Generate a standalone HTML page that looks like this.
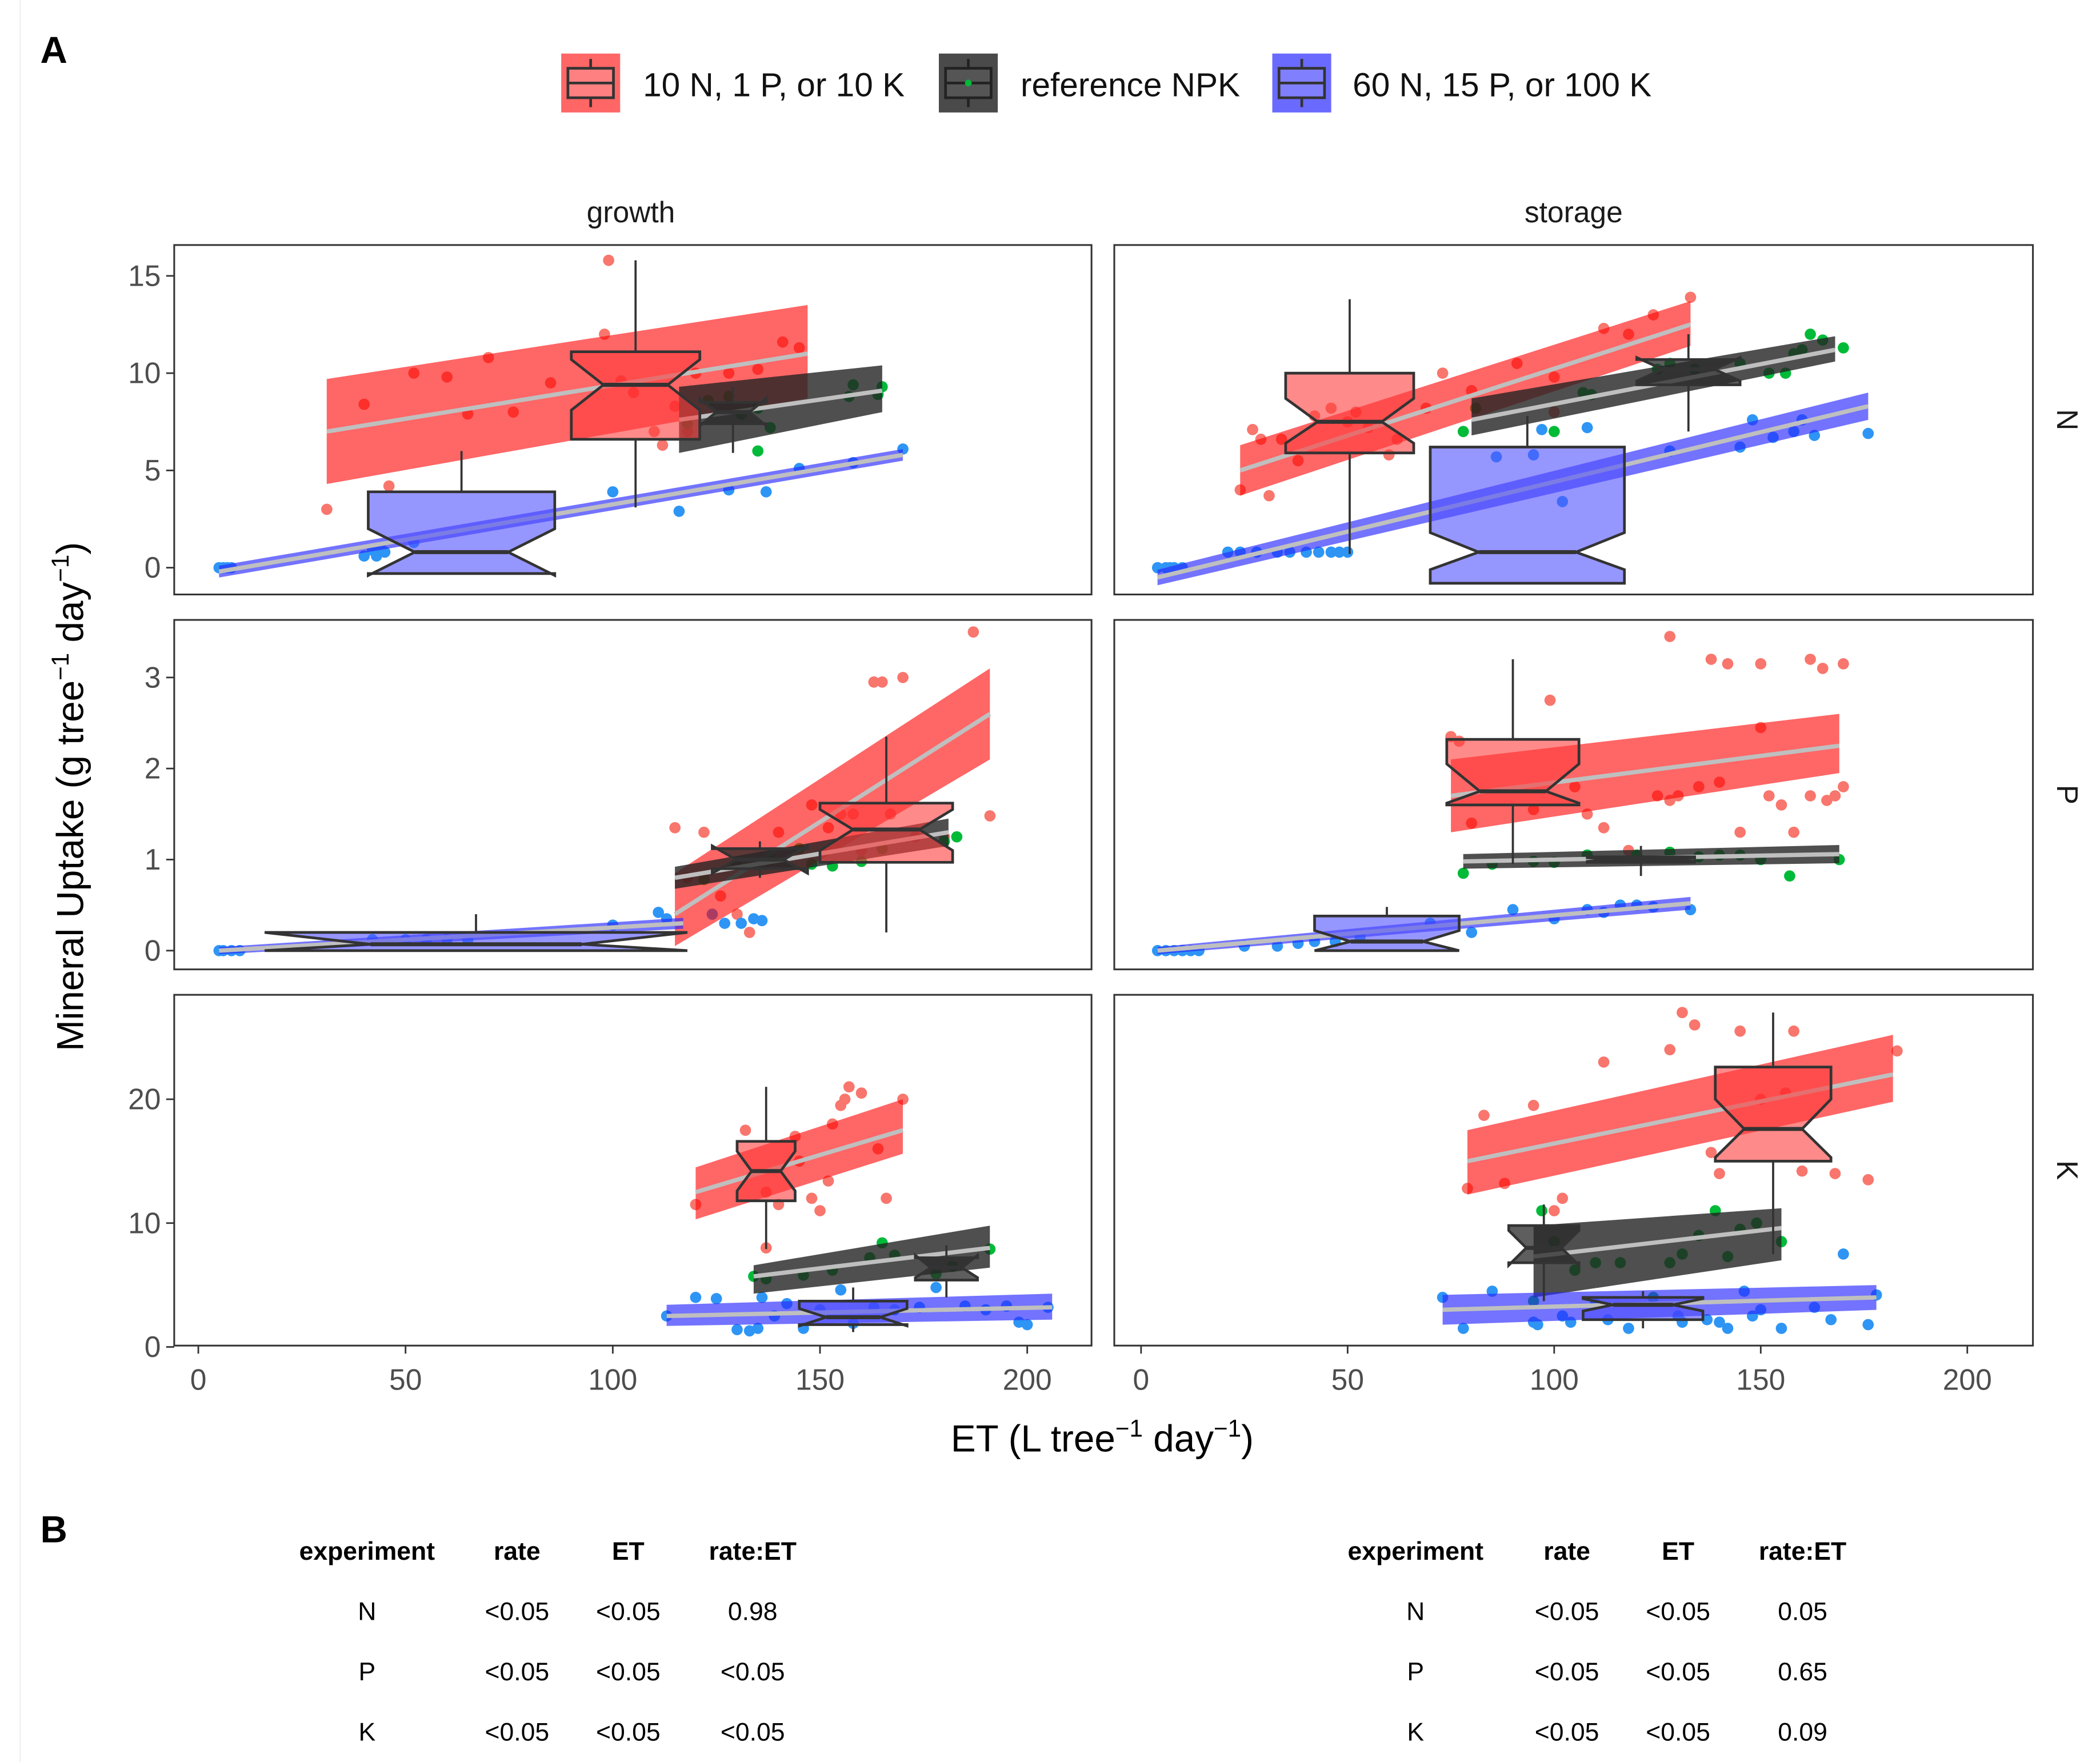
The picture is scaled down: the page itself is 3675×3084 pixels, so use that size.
<!DOCTYPE html>
<html><head><meta charset="utf-8"><style>
html,body{margin:0;padding:0;background:#fff;}
svg{display:block;font-family:"Liberation Sans",Arial,sans-serif;}
</style></head><body>
<svg id="chart" width="3675" height="3084" viewBox="0 0 1568 1316">
<rect x="0" y="0" width="1568" height="1316" fill="#fff"/>
<line x1="15" y1="0" x2="15" y2="1316" stroke="#f0f0f0" stroke-width="1"/>
<text x="30" y="47" font-size="28" font-weight="bold">A</text>
<g>
 <g>
  <rect x="419" y="40" width="44" height="44" fill="#ff6666"/>
  <line x1="441" y1="44" x2="441" y2="80" stroke="#333" stroke-width="2"/>
  <rect x="424" y="51" width="34" height="22" fill="#ff8080" stroke="#333" stroke-width="2"/>
  <line x1="424" y1="62" x2="458" y2="62" stroke="#333" stroke-width="2"/>
  <text x="480" y="72" font-size="25" fill="#111">10 N, 1 P, or 10 K</text>
 </g>
 <g>
  <rect x="701" y="40" width="44" height="44" fill="#4a4a4a"/>
  <line x1="723" y1="44" x2="723" y2="80" stroke="#222" stroke-width="2"/>
  <rect x="706" y="51" width="34" height="22" fill="#555" stroke="#222" stroke-width="2"/>
  <line x1="706" y1="62" x2="740" y2="62" stroke="#222" stroke-width="2"/>
  <circle cx="723" cy="62" r="2.5" fill="#00ba38"/>
  <text x="762" y="72" font-size="25" fill="#111">reference NPK</text>
 </g>
 <g>
  <rect x="950" y="40" width="44" height="44" fill="#6a6aff"/>
  <line x1="972" y1="44" x2="972" y2="80" stroke="#333" stroke-width="2"/>
  <rect x="955" y="51" width="34" height="22" fill="#8080ff" stroke="#333" stroke-width="2"/>
  <line x1="955" y1="62" x2="989" y2="62" stroke="#333" stroke-width="2"/>
  <text x="1010" y="72" font-size="25" fill="#111">60 N, 15 P, or 100 K</text>
 </g>
</g>
<text x="471" y="166" font-size="22" text-anchor="middle" fill="#1a1a1a">growth</text>
<text x="1175" y="166" font-size="22" text-anchor="middle" fill="#1a1a1a">storage</text>
<g id="plots"></g>
<text transform="translate(62,595) rotate(-90)" font-size="28" text-anchor="middle" fill="#000">Mineral Uptake (g tree<tspan dy="-11" font-size="18">−1</tspan><tspan dy="11"> day</tspan><tspan dy="-11" font-size="18">−1</tspan><tspan dy="11">)</tspan></text>
<text x="823" y="1084" font-size="28" text-anchor="middle" fill="#000">ET (L tree<tspan dy="-11" font-size="18">−1</tspan><tspan dy="11"> day</tspan><tspan dy="-11" font-size="18">−1</tspan><tspan dy="11">)</tspan></text>
<text x="30" y="1152" font-size="28" font-weight="bold">B</text>
<g id="tables" font-size="19" fill="#000"></g>
</svg>
<script>
// ---------- data ----------
const xTicks = [0, 50, 100, 150, 200];
const yTicksN = [0, 5, 10, 15];
const yTicksP = [0, 1, 2, 3];
const yTicksK = [0, 10, 20];
const facetRows = ["N", "P", "K"];
const facetCols = ["growth", "storage"];
// fits: [x0, x1, fit0, fit1, lo0, hi0, lo1, hi1]
const growthN_fitRed = [31, 147, 7.0, 11.0, 4.3, 9.7, 8.7, 13.5];
const growthN_fitRef = [116, 165, 7.6, 9.1, 5.9, 9.3, 8.0, 10.4];
const growthN_fitHigh = [5, 170, -0.2, 5.8, -0.5, 0.1, 5.5, 6.1];
// boxes: [xlo, xhi, whiskLo, q1, med, q3, whiskHi, notchLo, notchHi]
const growthN_boxRed = [90, 121, 3.1, 6.6, 9.4, 11.1, 15.8, 8.1, 10.7];
const growthN_boxRef = [121, 137, 5.9, 7.4, 8.0, 8.5, 9.3, 7.3, 8.7];
const growthN_boxHigh = [41, 86, -0.3, -0.3, 0.8, 3.9, 6.0, -0.4, 2.0];
const growthN_ptsRed = [[31,3.0],[40,8.4],[46,4.2],[52,10.0],[60,9.8],[65,7.9],[70,10.8],[76,8.0],[85,9.5],[98,12.0],[99,15.8],[102,9.6],[110,7.0],[112,6.3],[115,8.3],[120,10.0],[128,10.0],[135,10.2],[141,11.6],[145,11.3],[105,9.0],[118,7.0]];
const growthN_ptsRef = [[118,7.4],[123,8.6],[128,8.8],[131,7.9],[135,6.0],[138,7.2],[158,9.4],[157,8.8],[165,9.3],[164,8.9],[135,8.2]];
const growthN_ptsHigh = [[5,0],[6,0],[7,0],[8,0],[40,0.6],[42,0.9],[44,1.0],[43,0.6],[45,0.8],[52,1.3],[100,3.9],[116,2.9],[128,4.0],[137,3.9],[145,5.1],[158,5.4],[170,6.1]];

const storageN_fitRed = [24, 133, 5.0, 12.5, 3.7, 6.3, 11.4, 13.7];
const storageN_fitRef = [80, 168, 7.6, 11.2, 6.8, 8.7, 10.6, 11.9];
const storageN_fitHigh = [4, 176, -0.5, 8.3, -0.9, -0.1, 7.6, 9.0];
const storageN_boxRed = [35, 66, 0.7, 5.9, 7.5, 10.0, 13.8, 6.4, 8.7];
const storageN_boxRef = [120, 145, 7.0, 9.4, 10.2, 10.7, 12.0, 9.6, 10.8];
const storageN_boxHigh = [70, 117, -0.8, -0.8, 0.8, 6.2, 7.8, -0.1, 1.8];
const storageN_ptsRed = [[24,4.0],[27,7.1],[29,6.6],[31,3.7],[34,6.6],[38,5.5],[42,7.8],[46,8.2],[50,7.5],[52,8.0],[55,7.2],[60,5.8],[62,6.6],[69,8.2],[73,10.0],[80,9.1],[91,10.5],[100,9.8],[112,12.3],[118,12.0],[124,13.0],[133,13.9],[100,8.0]];
const storageN_ptsRef = [[78,7.0],[100,7.0],[107,9.0],[109,8.9],[125,10.2],[128,10.5],[134,10.2],[145,10.5],[152,10.0],[156,10.0],[158,11.0],[160,11.2],[162,12.0],[165,11.7],[170,11.3],[81,8.2]];
const storageN_ptsHigh = [[4,0],[6,0],[7,0],[8,0],[10,0],[21,0.8],[24,0.8],[28,0.8],[33,0.8],[36,0.8],[40,0.8],[43,0.8],[46,0.8],[48,0.8],[50,0.8],[86,5.7],[95,5.8],[97,7.1],[102,3.4],[108,7.2],[145,6.2],[148,7.6],[153,6.7],[158,7.0],[160,7.6],[163,6.8],[176,6.9],[128,6.0]];

const growthP_fitRed = [115, 191, 0.4, 2.6, 0.05, 0.85, 2.1, 3.1];
const growthP_fitRef = [115, 181, 0.8, 1.3, 0.68, 0.92, 1.15, 1.45];
const growthP_fitHigh = [5, 117, 0.0, 0.3, -0.04, 0.04, 0.24, 0.36];
const growthP_boxRed = [150, 182, 0.2, 0.97, 1.33, 1.62, 2.35, 1.1, 1.55];
const growthP_boxRef = [124, 147, 0.8, 0.9, 1.0, 1.12, 1.2, 0.85, 1.15];
const growthP_boxHigh = [16, 118, 0.0, 0.0, 0.07, 0.2, 0.4, 0.0, 0.2];
const growthP_ptsRed = [[115,1.35],[118,0.8],[122,1.3],[126,0.6],[130,0.4],[133,0.2],[140,1.3],[148,1.6],[152,1.35],[158,1.5],[163,2.95],[165,2.95],[167,1.5],[170,3.0],[173,1.25],[180,1.25],[187,3.5],[191,1.48],[160,1.1],[155,1.5]];
const growthP_ptsRef = [[122,0.78],[130,0.95],[138,1.0],[145,1.12],[148,0.95],[153,0.93],[160,0.98],[165,1.12],[180,1.2],[183,1.25]];
const growthP_ptsHigh = [[5,0],[6,0],[8,0],[10,0],[42,0.12],[50,0.12],[55,0.12],[60,0.12],[65,0.12],[100,0.28],[111,0.42],[113,0.35],[124,0.4],[127,0.3],[131,0.3],[134,0.35],[136,0.33]];

const storageP_fitRed = [75, 169, 1.7, 2.25, 1.3, 2.1, 1.95, 2.6];
const storageP_fitRef = [78, 169, 0.98, 1.06, 0.9, 1.06, 0.96, 1.16];
const storageP_fitHigh = [4, 133, 0.0, 0.52, -0.04, 0.04, 0.45, 0.59];
const storageP_boxRed = [74, 106, 0.95, 1.6, 1.75, 2.32, 3.2, 1.62, 2.05];
const storageP_boxRef = [108, 134, 0.82, 0.97, 1.0, 1.03, 1.15, 0.98, 1.02];
const storageP_boxHigh = [42, 77, 0.0, 0.0, 0.1, 0.38, 0.48, 0.0, 0.22];
const storageP_ptsRed = [[75,2.35],[77,2.3],[80,1.4],[95,1.55],[99,2.75],[105,1.8],[108,1.5],[112,1.35],[118,1.1],[125,1.7],[128,1.65],[130,1.7],[135,1.8],[140,1.85],[145,1.3],[150,2.45],[152,1.7],[158,1.3],[162,1.7],[166,1.65],[168,1.7],[170,1.8],[128,3.45],[138,3.2],[142,3.15],[150,3.15],[162,3.2],[165,3.1],[170,3.15],[155,1.6]];
const storageP_ptsRef = [[78,0.85],[85,0.95],[95,0.98],[108,1.05],[120,1.05],[128,1.08],[135,1.03],[140,1.05],[145,1.05],[150,1.0],[157,0.82],[169,1.0],[100,0.97]];
const storageP_ptsHigh = [[4,0],[6,0],[8,0],[10,0],[12,0],[14,0],[25,0.05],[33,0.05],[38,0.08],[42,0.1],[47,0.1],[53,0.15],[70,0.3],[80,0.2],[90,0.45],[100,0.35],[108,0.45],[112,0.42],[116,0.5],[120,0.5],[124,0.48],[133,0.45]];

const growthK_fitRed = [120, 170, 12.5, 17.5, 10.3, 14.5, 15.6, 20.0];
const growthK_fitRef = [134, 191, 5.7, 8.0, 4.3, 6.6, 6.4, 9.8];
const growthK_fitHigh = [113, 206, 2.5, 3.2, 1.7, 3.4, 2.2, 4.3];
const growthK_boxRed = [130, 144, 7.9, 11.8, 14.2, 16.6, 21.0, 12.6, 15.8];
const growthK_boxRef = [173, 188, 4.0, 5.4, 6.4, 7.2, 8.2, 5.6, 7.4];
const growthK_boxHigh = [145, 171, 1.2, 1.8, 2.4, 3.7, 4.8, 1.7, 3.1];
const growthK_ptsRed = [[120,11.5],[132,17.5],[137,12.5],[140,11.5],[144,17.0],[148,12.0],[150,11.0],[152,13.4],[153,18.0],[155,19.5],[156,20.0],[157,21.0],[160,20.5],[164,16.0],[166,12.0],[170,20.0],[137,8.0],[145,15.0]];
const growthK_ptsRef = [[134,5.7],[137,5.5],[146,5.8],[153,6.2],[162,7.2],[165,8.4],[168,7.4],[182,6.5],[191,7.9],[178,5.9]];
const growthK_ptsHigh = [[113,2.5],[120,4.0],[125,3.9],[130,1.4],[133,1.3],[135,1.5],[136,4.0],[139,2.5],[142,3.5],[146,1.5],[150,3.0],[158,1.9],[163,3.2],[168,3.0],[174,3.2],[178,4.8],[185,3.3],[190,3.0],[195,3.3],[198,2.0],[200,1.8],[205,3.2],[155,4.6]];

const storageK_fitRed = [79, 182, 15.0, 22.0, 12.3, 17.5, 19.8, 25.2];
const storageK_fitRef = [95, 155, 7.3, 9.6, 4.0, 9.8, 7.0, 11.2];
const storageK_fitHigh = [73, 178, 3.0, 4.0, 1.8, 4.2, 3.0, 5.0];
const storageK_boxRed = [139, 167, 7.5, 15.0, 17.6, 22.6, 27.0, 15.3, 20.0];
const storageK_boxRef = [89, 106, 3.7, 6.8, 8.0, 9.8, 11.5, 6.6, 9.4];
const storageK_boxHigh = [107, 136, 1.5, 2.2, 3.4, 4.0, 4.5, 2.9, 3.9];
const storageK_ptsRed = [[79,12.8],[83,18.7],[88,13.2],[95,19.5],[100,11.0],[102,12.0],[112,23.0],[128,24.0],[131,27.0],[134,26.0],[138,15.7],[140,14.0],[145,25.5],[150,20.0],[156,20.5],[158,25.5],[160,14.2],[168,14.0],[176,13.5],[183,23.9]];
const storageK_ptsRef = [[95,3.7],[97,11.0],[105,6.2],[110,6.8],[116,6.8],[124,4.0],[128,6.8],[131,7.5],[135,9.0],[139,11.0],[142,7.3],[145,9.5],[149,10.0],[155,8.5],[100,8.5]];
const storageK_ptsHigh = [[73,4.0],[78,1.5],[85,4.5],[95,2.0],[96,1.8],[102,2.5],[104,2.0],[110,3.5],[113,2.2],[118,1.5],[130,2.5],[131,2.0],[137,2.2],[140,2.0],[142,1.5],[146,4.5],[148,2.5],[150,3.0],[155,1.5],[163,3.2],[167,2.2],[170,7.5],[176,1.8],[178,4.2]];

const tableHeaders = ["experiment", "rate", "ET", "rate:ET"];
const tableGrowth = [["N","<0.05","<0.05","0.98"],["P","<0.05","<0.05","<0.05"],["K","<0.05","<0.05","<0.05"]];
const tableStorage = [["N","<0.05","<0.05","0.05"],["P","<0.05","<0.05","0.65"],["K","<0.05","<0.05","0.09"]];

// ---------- layout ----------
const NS = "http://www.w3.org/2000/svg";
const colBox = [[130, 815], [832, 1518]];
const rowBox = [[183, 444], [463, 724], [743, 1005]];
const xZero = [148, 852], xPerUnit = [3.095, 3.085];
const yZero = [424, 710, 1006], yPerUnit = [14.53, 68, 9.25];
const yTicksByRow = [yTicksN, yTicksP, yTicksK];
function sx(c, v) { return xZero[c] + v * xPerUnit[c]; }
function sy(r, v) { return yZero[r] - v * yPerUnit[r]; }
function mk(tag, attrs, parent) {
  const e = document.createElementNS(NS, tag);
  for (const k in attrs) e.setAttribute(k, attrs[k]);
  parent.appendChild(e);
  return e;
}
const root = document.getElementById("plots");
const panels = {
  "0,0": [growthN_fitRed, growthN_fitRef, growthN_fitHigh, growthN_boxRed, growthN_boxRef, growthN_boxHigh, growthN_ptsRed, growthN_ptsRef, growthN_ptsHigh],
  "0,1": [storageN_fitRed, storageN_fitRef, storageN_fitHigh, storageN_boxRed, storageN_boxRef, storageN_boxHigh, storageN_ptsRed, storageN_ptsRef, storageN_ptsHigh],
  "1,0": [growthP_fitRed, growthP_fitRef, growthP_fitHigh, growthP_boxRed, growthP_boxRef, growthP_boxHigh, growthP_ptsRed, growthP_ptsRef, growthP_ptsHigh],
  "1,1": [storageP_fitRed, storageP_fitRef, storageP_fitHigh, storageP_boxRed, storageP_boxRef, storageP_boxHigh, storageP_ptsRed, storageP_ptsRef, storageP_ptsHigh],
  "2,0": [growthK_fitRed, growthK_fitRef, growthK_fitHigh, growthK_boxRed, growthK_boxRef, growthK_boxHigh, growthK_ptsRed, growthK_ptsRef, growthK_ptsHigh],
  "2,1": [storageK_fitRed, storageK_fitRef, storageK_fitHigh, storageK_boxRed, storageK_boxRef, storageK_boxHigh, storageK_ptsRed, storageK_ptsRef, storageK_ptsHigh]
};
const groups = ["low", "reference", "high"];
const ptColor = ["#f8766d", "#00ba38", "#2e95f5"];
const ribColor = ["rgba(255,0,0,0.6)", "rgba(35,35,35,0.8)", "rgba(40,40,255,0.65)"];
const boxFill = ["rgba(255,60,60,0.6)", "rgba(40,40,40,0.75)", "rgba(80,80,255,0.6)"];

for (let r = 0; r < 3; r++) {
  for (let c = 0; c < 2; c++) {
    const d = panels[r + "," + c];
    const g = mk("g", {}, root);
    
    
    const [x0, x1] = colBox[c], [y0, y1] = rowBox[r];
    const clipId = "clip" + r + c;
    const cp = mk("clipPath", { id: clipId }, g);
    mk("rect", { x: x0, y: y0, width: x1 - x0, height: y1 - y0 }, cp);
    mk("rect", { x: x0, y: y0, width: x1 - x0, height: y1 - y0, fill: "#fff" }, g);
    const inner = mk("g", { "clip-path": "url(#" + clipId + ")" }, g);
    for (let k = 0; k < 3; k++) {
      d[6 + k].forEach(p => {
        const ci = mk("circle", { cx: sx(c, p[0]), cy: sy(r, p[1]), r: 4.2, fill: ptColor[k] }, inner);
        
        
      });
    }
    for (let k = 0; k < 3; k++) {
      const f = d[k];
      const pts = [[f[0], f[4]], [f[1], f[6]], [f[1], f[7]], [f[0], f[5]]].map(q => sx(c, q[0]).toFixed(1) + "," + sy(r, q[1]).toFixed(1)).join(" ");
      const rb = mk("polygon", { points: pts, fill: ribColor[k] }, inner);
      
      
      const ln = mk("line", { x1: sx(c, f[0]), y1: sy(r, f[2]), x2: sx(c, f[1]), y2: sy(r, f[3]), stroke: "#bfbfbf", "stroke-width": 3.2 }, inner);
      
      
    }
    for (let k = 0; k < 3; k++) {
      const b = d[3 + k];
      const bx0 = sx(c, b[0]), bx1 = sx(c, b[1]), xm = (bx0 + bx1) / 2, ind = (bx1 - bx0) / 4;
      const bg = mk("g", {}, inner);
      
      
      mk("line", { x1: xm, y1: sy(r, b[2]), x2: xm, y2: sy(r, b[3]), stroke: "#333", "stroke-width": 1.6 }, bg);
      mk("line", { x1: xm, y1: sy(r, b[5]), x2: xm, y2: sy(r, b[6]), stroke: "#333", "stroke-width": 1.6 }, bg);
      const q1 = sy(r, b[3]), md = sy(r, b[4]), q3 = sy(r, b[5]), nl = sy(r, b[7]), nh = sy(r, b[8]);
      const path = `M${bx0},${q3} L${bx1},${q3} L${bx1},${nh} L${bx1 - ind},${md} L${bx1},${nl} L${bx1},${q1} L${bx0},${q1} L${bx0},${nl} L${bx0 + ind},${md} L${bx0},${nh} Z`;
      mk("path", { d: path, fill: boxFill[k], stroke: "#333", "stroke-width": 2, "stroke-linejoin": "miter" }, bg);
      mk("line", { x1: bx0 + ind, y1: md, x2: bx1 - ind, y2: md, stroke: "#333", "stroke-width": 3 }, bg);
    }
    mk("rect", { x: x0, y: y0, width: x1 - x0, height: y1 - y0, fill: "none", stroke: "#333", "stroke-width": 1.3 }, g);
    if (c === 0) {
      yTicksByRow[r].forEach(t => {
        const yy = sy(r, t);
        mk("line", { x1: x0 - 6, y1: yy, x2: x0, y2: yy, stroke: "#333", "stroke-width": 1.2 }, g);
        const tx = mk("text", { x: x0 - 10, y: yy + 7.5, "font-size": 22, "text-anchor": "end", fill: "#4d4d4d" }, g);
        
        
        tx.textContent = t;
      });
    }
    if (r === 2) {
      xTicks.forEach(t => {
        const xx = sx(c, t);
        mk("line", { x1: xx, y1: y1, x2: xx, y2: y1 + 6, stroke: "#333", "stroke-width": 1.2 }, g);
        const tx = mk("text", { x: xx, y: y1 + 33, "font-size": 22, "text-anchor": "middle", fill: "#4d4d4d" }, g);
        
        
        tx.textContent = t;
      });
    }
    if (c === 1) {
      const cy = (y0 + y1) / 2;
      const st = mk("text", { transform: `translate(1536,${cy}) rotate(90)`, "font-size": 22, "text-anchor": "middle", fill: "#1a1a1a" }, g);
      
      
      st.textContent = facetRows[r];
    }
  }
}
const tg = document.getElementById("tables");
function drawTable(cols, rows) {
  const tb = mk("g", {}, tg);
  
  
  tableHeaders.forEach((h, i) => {
    const t = mk("text", { x: cols[i], y: 1165, "text-anchor": "middle", "font-weight": "bold" }, tb);
    
    
    t.textContent = h;
  });
  rows.forEach((row, j) => {
    row.forEach((v, i) => {
      const t = mk("text", { x: cols[i], y: 1210 + j * 45, "text-anchor": "middle" }, tb);
      
      
      t.textContent = v;
    });
  });
}
drawTable([274, 386, 469, 562], tableGrowth);
drawTable([1057, 1170, 1253, 1346], tableStorage);
</script>
</body></html>
